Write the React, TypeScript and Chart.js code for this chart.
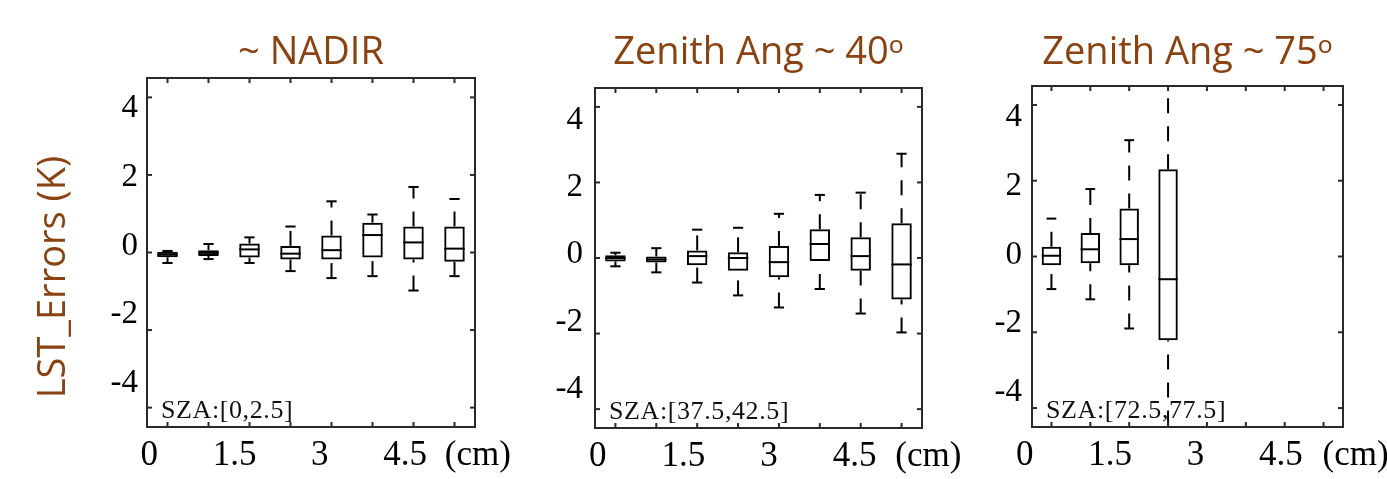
import React, { useEffect, useRef } from 'react';
import { Chart, registerables } from 'chart.js';

Chart.register(...registerables);

// ---------- data ----------
const CATEGORIES = ['1', '2', '3', '4', '5', '6', '7', '8'];
const Y_TICK_VALUES = [-4, -2, 0, 2, 4];
const X_LABEL_VALUES = [0, 1.5, 3, 4.5];
const X_UNIT_LABEL = '(cm)';
const Y_TITLE = 'LST_Errors (K)';

const TITLES = ['~ NADIR', 'Zenith Ang ~ 40ᵒ', 'Zenith Ang ~ 75ᵒ'];
const SZA_LABELS = ['SZA:[0,2.5]', 'SZA:[37.5,42.5]', 'SZA:[72.5,77.5]'];

// Panel 1: ~ NADIR
const NADIR_MIN = [-0.27, -0.17, -0.27, -0.48, -0.66, -0.61, -0.98, -0.61];
const NADIR_Q1 = [-0.12, -0.09, -0.13, -0.18, -0.18, -0.13, -0.18, -0.24];
const NADIR_MED = [-0.05, -0.01, 0.08, -0.03, 0.06, 0.45, 0.26, 0.1];
const NADIR_Q3 = [0.02, 0.06, 0.23, 0.17, 0.44, 0.77, 0.67, 0.67];
const NADIR_MAX = [0.04, 0.22, 0.39, 0.67, 1.32, 0.98, 1.69, 1.38];

// Panel 2: Zenith ~ 40
const Z40_MIN = [-0.22, -0.38, -0.65, -0.99, -1.31, -0.82, -1.47, -1.97];
const Z40_Q1 = [-0.09, -0.12, -0.19, -0.34, -0.51, -0.08, -0.34, -1.1];
const Z40_MED = [0.0, -0.04, 0.05, 0.0, -0.11, 0.37, 0.05, -0.17];
const Z40_Q3 = [0.07, 0.04, 0.2, 0.15, 0.32, 0.76, 0.55, 0.92];
const Z40_MAX = [0.14, 0.26, 0.75, 0.8, 1.17, 1.67, 1.73, 2.76];

// Panel 3: Zenith ~ 75
const Z75_MIN = [-0.86, -1.13, -1.9, -5.2, null, null, null, null];
const Z75_Q1 = [-0.23, -0.18, -0.23, -2.21, null, null, null, null];
const Z75_MED = [0.02, 0.19, 0.46, -0.6, null, null, null, null];
const Z75_Q3 = [0.26, 0.62, 1.27, 2.3, null, null, null, null];
const Z75_MAX = [1.0, 1.78, 3.07, 5.2, null, null, null, null];

// ---------- layout / style ----------
const H = 479;
const TITLE_COLOR = '#8A4211';
const SANS = '"Open Sans", "Noto Sans", sans-serif';
const SERIF = '"Liberation Serif", "DejaVu Serif", serif';

type Stats = { min: (number | null)[]; q1: (number | null)[]; med: (number | null)[]; q3: (number | null)[]; max: (number | null)[] };

const PANELS = [
  {
    title: TITLES[0], sza: SZA_LABELS[0],
    stats: { min: NADIR_MIN, q1: NADIR_Q1, med: NADIR_MED, q3: NADIR_Q3, max: NADIR_MAX } as Stats,
    left: 0, width: 530, padLeft: 87, yAxisW: 60, padRight: 55, padTop: 30, titleBottom: 2.4, xAxisH: 52,
    ylRange: [-5.26, 4.88], xlRange: [-0.04, 5.73], ylPad: 9, unitAt: 5.78,
    yTitle: { x: 54, y: 277 },
  },
  {
    title: TITLES[1], sza: SZA_LABELS[1],
    stats: { min: Z40_MIN, q1: Z40_Q1, med: Z40_MED, q3: Z40_Q3, max: Z40_MAX } as Stats,
    left: 530, width: 445, padLeft: 5, yAxisW: 60, padRight: 53, padTop: 30, titleBottom: 12.4, xAxisH: 51,
    ylRange: [-5.15, 4.95], xlRange: [-0.05, 5.68], ylPad: 12, unitAt: 5.79,
    yTitle: null,
  },
  {
    title: TITLES[2], sza: SZA_LABELS[2],
    stats: { min: Z75_MIN, q1: Z75_Q1, med: Z75_MED, q3: Z75_Q3, max: Z75_MAX } as Stats,
    left: 975, width: 412, padLeft: 2, yAxisW: 55, padRight: 44, padTop: 30, titleBottom: 10.4, xAxisH: 52,
    ylRange: [-5.0, 4.91], xlRange: [0.127, 5.59], ylPad: 10, unitAt: 5.81,
    yTitle: null,
  },
];

// ---------- plugins ----------
const boxExtras = {
  id: 'boxExtras',
  afterDatasetsDraw(chart: any) {
    const o = chart.options.plugins.boxExtras;
    const s: Stats = o.stats;
    const { ctx, chartArea: a } = chart;
    const x = chart.scales.x;
    const y = chart.scales.y;
    const meta = chart.getDatasetMeta(0);
    const seg = (x1: number, y1: number, x2: number, y2: number) => {
      ctx.beginPath();
      ctx.moveTo(x1, y1);
      ctx.lineTo(x2, y2);
      ctx.stroke();
    };
    ctx.save();
    ctx.beginPath();
    ctx.rect(a.left, a.top, a.right - a.left, a.bottom - a.top);
    ctx.clip();
    ctx.strokeStyle = '#000';
    ctx.lineWidth = 2;
    meta.data.forEach((bar: any, i: number) => {
      if (s.q1[i] == null) return;
      const cx = bar.x;
      const w = bar.width;
      const yMin = y.getPixelForValue(s.min[i]);
      const yQ1 = y.getPixelForValue(s.q1[i]);
      const yMed = y.getPixelForValue(s.med[i]);
      const yQ3 = y.getPixelForValue(s.q3[i]);
      const yMax = y.getPixelForValue(s.max[i]);
      ctx.setLineDash([]);
      seg(cx - w / 2, yMed, cx + w / 2, yMed);
      seg(cx - w / 4, yMax, cx + w / 4, yMax);
      seg(cx - w / 4, yMin, cx + w / 4, yMin);
      ctx.setLineDash([15, 13]);
      seg(cx, yQ3, cx, yMax);
      seg(cx, yMin, cx, yQ1);
    });
    ctx.restore();

    // frame + inward ticks
    ctx.save();
    ctx.strokeStyle = '#2a2a2a';
    ctx.lineWidth = 2;
    ctx.strokeRect(a.left, a.top, a.right - a.left, a.bottom - a.top);
    const tl = 5;
    x.ticks.forEach((_t: any, i: number) => {
      const px = x.getPixelForTick(i);
      seg(px, a.top, px, a.top + tl);
      seg(px, a.bottom, px, a.bottom - tl);
    });
    Y_TICK_VALUES.forEach((v) => {
      const py = y.getPixelForValue(v);
      seg(a.left, py, a.left + tl, py);
      seg(a.right, py, a.right - tl, py);
    });
    // SZA label
    ctx.fillStyle = '#111';
    ctx.font = `26px ${SERIF}`;
    try {
      (ctx as any).letterSpacing = '0.6px';
    } catch (e) {
      /* ignore */
    }
    ctx.textAlign = 'left';
    ctx.textBaseline = 'alphabetic';
    ctx.fillText(o.sza, a.left + 14, a.bottom - 9);
    ctx.restore();
  },
};

const sideTitle = {
  id: 'sideTitle',
  afterDraw(chart: any) {
    const o = chart.options.plugins.sideTitle;
    if (!o || !o.pos) return;
    const { ctx } = chart;
    ctx.save();
    ctx.translate(o.pos.x, o.pos.y);
    ctx.rotate(-Math.PI / 2);
    ctx.fillStyle = TITLE_COLOR;
    ctx.font = `38px ${SANS}`;
    ctx.textAlign = 'center';
    ctx.textBaseline = 'middle';
    ctx.fillText(o.text, 0, 0);
    ctx.restore();
  },
};

function makeConfig(p: any): any {
  const s: Stats = p.stats;
  return {
    type: 'bar',
    data: {
      labels: CATEGORIES,
      datasets: [
        {
          data: CATEGORIES.map((_c, i) => (s.q1[i] == null ? null : [s.q1[i], s.q3[i]])),
          backgroundColor: 'rgba(0,0,0,0)',
          borderColor: '#000',
          borderWidth: 2,
          borderSkipped: false,
          barPercentage: 0.5,
          categoryPercentage: 1,
          xAxisID: 'x',
          yAxisID: 'y',
        },
      ],
    },
    options: {
      responsive: false,
      maintainAspectRatio: false,
      animation: false,
      devicePixelRatio: 1,
      layout: { padding: { left: p.padLeft, right: p.padRight, top: p.padTop, bottom: 0 } },
      plugins: {
        legend: { display: false },
        tooltip: { enabled: false },
        title: {
          display: true,
          text: p.title,
          color: TITLE_COLOR,
          fullSize: false,
          font: { family: SANS, size: 38, weight: 'normal', lineHeight: 1.2 },
          padding: { top: 0, bottom: p.titleBottom },
        },
        boxExtras: { stats: s, sza: p.sza },
        sideTitle: { text: Y_TITLE, pos: p.yTitle },
      },
      scales: {
        x: { type: 'category', display: false, offset: true },
        y: { type: 'linear', display: false, min: -4.5, max: 4.5 },
        xl: {
          type: 'linear',
          position: 'bottom',
          offset: false,
          min: p.xlRange[0],
          max: p.xlRange[1],
          grid: { display: false, drawTicks: false, offset: false },
          border: { display: false },
          afterBuildTicks: (sc: any) => {
            sc.ticks = [...X_LABEL_VALUES.map((v) => ({ value: v })), { value: p.unitAt }];
          },
          afterFit: (sc: any) => {
            sc.height = p.xAxisH;
            sc.paddingLeft = 0;
            sc.paddingRight = 0;
          },
          ticks: {
            autoSkip: false,
            maxRotation: 0,
            minRotation: 0,
            padding: 8,
            color: '#000',
            font: { family: SERIF, size: 35 },
            callback: (v: number) => (v === p.unitAt ? X_UNIT_LABEL : String(v)),
          },
        },
        yl: {
          type: 'linear',
          position: 'left',
          offset: false,
          beginAtZero: false,
          min: p.ylRange[0],
          max: p.ylRange[1],
          grid: { display: false, drawTicks: false },
          border: { display: false },
          afterBuildTicks: (sc: any) => {
            sc.ticks = Y_TICK_VALUES.map((v) => ({ value: v }));
          },
          afterFit: (sc: any) => {
            sc.width = p.yAxisW;
            sc.paddingTop = 0;
            sc.paddingBottom = 0;
          },
          ticks: {
            autoSkip: false,
            padding: p.ylPad,
            color: '#000',
            font: { family: SERIF, size: 33 },
            callback: (v: number) => String(v),
          },
        },
      },
    },
    plugins: [boxExtras, sideTitle],
  };
}

function Panel({ p }: { p: any }) {
  const ref = useRef<HTMLCanvasElement>(null);
  useEffect(() => {
    const chart = new Chart(ref.current as HTMLCanvasElement, makeConfig(p));
    return () => chart.destroy();
  }, [p]);
  return (
    <div style={{ position: 'absolute', left: p.left, top: 0, width: p.width, height: H }}>
      <canvas ref={ref} width={p.width} height={H} style={{ display: 'block', width: p.width, height: H }} />
    </div>
  );
}

export default function App() {
  return (
    <div style={{ position: 'absolute', left: 0, top: 0, width: 1387, height: H, background: '#fff', overflow: 'hidden' }}>
      {PANELS.map((p, i) => (
        <Panel key={i} p={p} />
      ))}
    </div>
  );
}
